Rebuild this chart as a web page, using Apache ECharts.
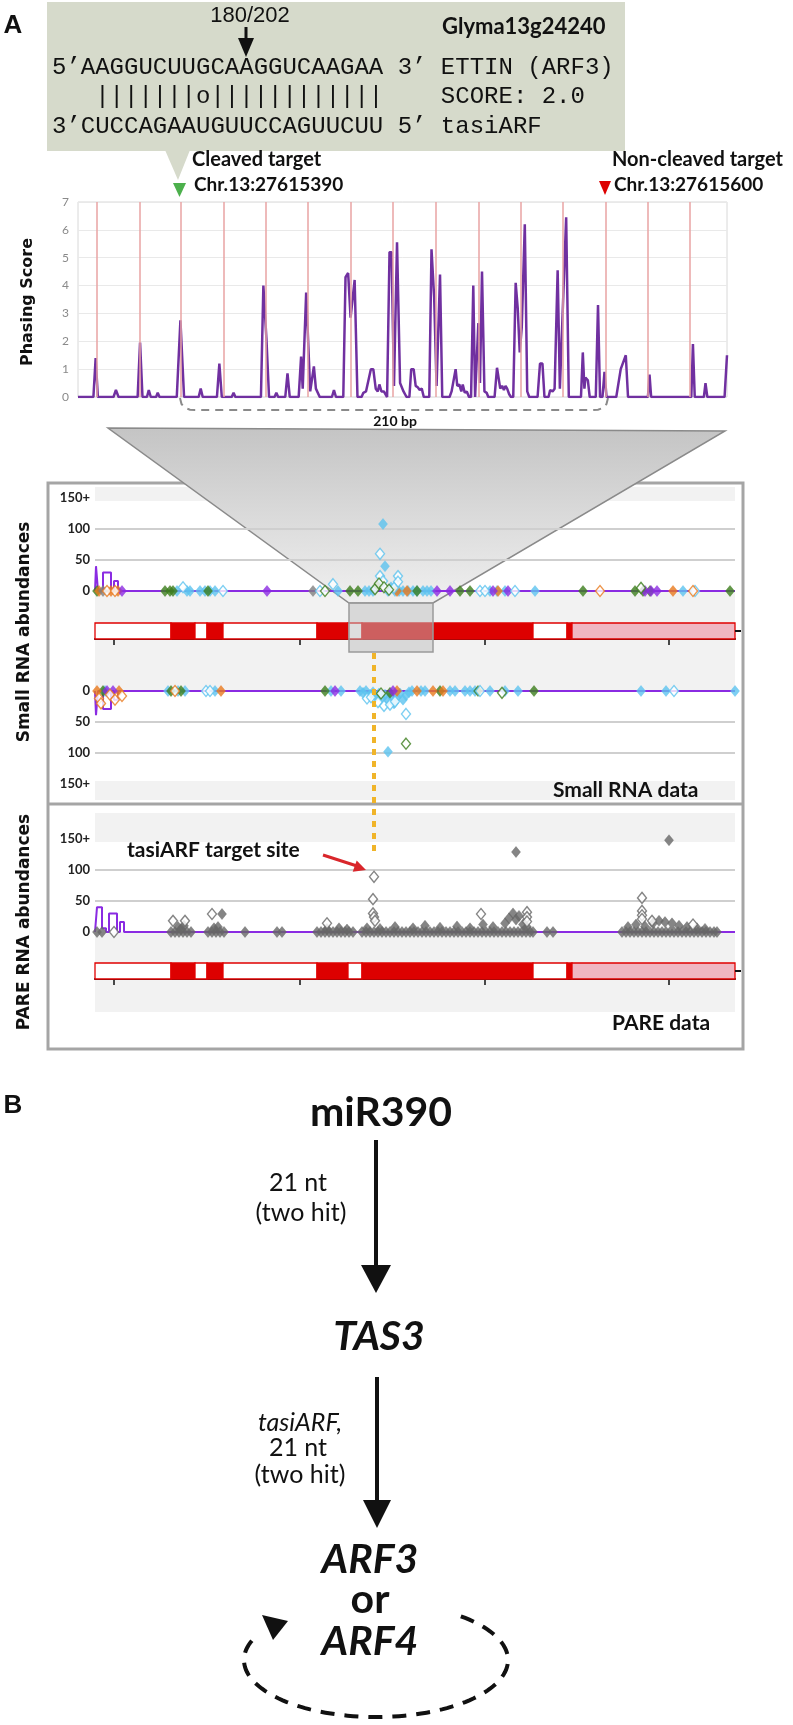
<!DOCTYPE html>
<html><head><meta charset="utf-8">
<script src="https://cdn.jsdelivr.net/npm/echarts@6/dist/echarts.min.js"></script>
<style>html,body{margin:0;padding:0;background:#fff}#c{width:793px;height:1725px}</style>
</head><body><div id="c"></div><script>
// ---------------- DATA ----------------
// Phasing score along the 320-nt window (x = nt offset, y = score)
const phasingCurve = [[0,0],
[7.6,0],[8.7,1.4],[9.8,0],[17.5,0],[18.7,0.25],[20,0],[29.4,0],[30.6,1.95],[31.8,0],
[34,0],[34.9,0.25],[35.9,0],[38.5,0],[39.3,0.15],[40.2,0],[48.7,0],[50.5,2.75],[52.3,0],
[59.5,0],[60.5,0.3],[61.5,0],[68.5,0],[69.7,1.2],[70.9,0],[75.8,0],[76.7,0.15],[77.6,0],
[90.2,0],[91.4,4.0],[92.9,2.1],[94.2,0],[96.9,0],[97.8,0.15],[98.7,0],[102.2,0],[103.3,0.85],[104.4,0],
[108.8,0],[110,1.45],[110.8,0.3],[112.5,3.75],[114.5,0.2],[116.3,1.1],[117.3,0.3],[118.2,0.3],[119.2,0],
[125.2,0],[126.2,0.25],[127.2,0],[130.8,0],[131.9,4.3],[133.2,4.45],[134.4,2.85],[136.4,4.2],[137.8,0],
[139.8,0],[140.7,0.15],[142,0.2],[144.4,1.0],[145.6,1.0],[146.8,0.3],[147.8,0.2],[148.6,0.45],[149.6,0.2],[150.8,0.2],[152.4,0],
[153.6,5.2],[154.6,5.2],[155.8,0.4],[157.3,5.55],[158.8,0.5],[160.5,0.2],[162,0],
[163.4,0],[164.3,1.0],[165.5,1.0],[166.5,0.4],[167.5,0.35],[168.5,0.25],[169.5,0.3],[170.5,0],
[173.2,0],[174.3,5.3],[175.6,3.6],[176.8,0.4],[178.5,4.4],[179.6,0],
[183.2,0],[184.2,0.2],[185,0.2],[186.2,1.0],[187,0.4],[188,0.45],[189,0.2],[189.7,0.45],[190.7,0.15],[191.7,0.2],[192.8,0],
[193.8,0],[194.9,4.0],[195.8,0],[196.4,0],[197.4,2.65],[198.2,0.5],[199.2,4.5],[200.4,0.2],[201.5,0.15],[202.3,0],
[205.4,0],[206.6,1.05],[207.4,1.05],[208.2,0.3],[209.1,0.4],[210,0.25],[210.8,0.4],[211.6,0.3],[212.6,0.1],[213.5,0],
[214.6,0],[215.8,4.1],[216.8,3.2],[217.8,1.6],[218.8,2.5],[220.3,6.2],[221.5,0.2],[222.5,0],
[226.6,0],[227.8,1.2],[229,1.2],[230,0],
[232,0],[232.8,0.25],[234,0.2],[235,0.3],[236.5,4.55],[237.6,0.3],[238.4,0.3],[240.7,6.45],[242,0],
[248,0],[248.9,1.6],[249.7,0.3],[250.2,0.7],[251.4,0.6],[252.3,0],
[255.3,0],[256.4,3.3],[257.4,0],[258.6,0],[259.6,0.9],[260.6,0],
[265.4,0],[267.6,1.0],[270.1,1.5],[271.2,0],[281,0],[281.8,0.8],[282.6,0],
[302.4,0],[303.2,1.9],[304.1,0],[308.6,0],[309.4,0.5],[310.3,0],[318.8,0],[320,1.5]];
const phaseLines = [9.2,30.6,50.5,71.7,92.6,113.5,134.4,155.3,176.5,197.4,218.3,239.2,260.1,281,301.7];
const phasingTicks = [0,1,2,3,4,5,6,7];

// Locus track (x = position along locus, 0..640)
const locusTicks = [19,205,390,574];
const abundanceLabels = ['0','50','100','150+'];
// gene model segments: [start, end, kind]  kind 0 = intron/blank, 1 = CDS exon, 2 = UTR
const geneSegments = [[0,76,0],[76,100,1],[100,112,0],[112,128,1],[128,222,0],[222,253,1],[253,267,0],[267,438,1],[438,472,0],[472,477,1],[477,640,2]];

// small RNA, plus strand
const sPlusCoverage = [[0,0],[1,0],[1,40],[3,0],[8,30],[16,0],[19,16],[23,0],[640,0]];
const sPlusBlue = [[82,0],[92,0],[95,0],[105,0],[110,0],[115,0],[120,0],[243,0],[270,0],[274,0],[278,0],[288,108],[290,40],[293,0],[296,6],[300,0],[304,0],[308,0],[313,0],[318,0],[322,0],[328,0],[332,0],[336,0],[395,0],[402,0],[410,0],[440,0],[588,0]];
const sPlusBlueOpen = [[88,6],[128,0],[225,0],[238,11],[285,24],[285,60],[288,16],[303,24],[303,15],[299,5],[385,0],[390,0],[420,0],[600,0]];
const sPlusGreen = [[2,0],[70,0],[75,0],[78,0],[113,0],[255,0],[263,0],[283,8],[322,0],[365,0],[375,0],[488,0],[540,0],[548,0],[555,0],[635,0]];
const sPlusGreenOpen = [[230,0],[280,3],[284,12],[289,6],[294,2],[546,5]];
const sPlusOrange = [[4,0],[16,0],[23,0],[302,0],[312,0],[403,0],[578,0]];
const sPlusOrangeOpen = [[12,0],[20,0],[505,0],[598,0]];
const sPlusPurple = [[27,0],[172,0],[342,0],[355,0],[398,0],[413,0],[550,0],[556,0],[562,0]];
const sPlusGray = [[8,0],[218,0]];

// small RNA, minus strand
const sMinusCoverage = [[0,0],[1,0],[1,39],[3,0],[8,29],[16,0],[19,14],[23,0],[640,0]];
const sMinusBlue = [[10,0],[73,0],[83,0],[90,0],[120,0],[236,0],[246,0],[265,0],[268,3],[271,0],[275,6],[278,2],[281,9],[284,4],[287,12],[290,6],[293,98],[293,15],[296,8],[299,20],[302,10],[305,4],[308,14],[311,7],[314,2],[317,0],[326,0],[330,0],[355,0],[360,0],[370,0],[375,0],[380,0],[395,0],[410,0],[423,0],[546,0],[571,0],[640,0]];
const sMinusBlueOpen = [[111,0],[115,0],[272,12],[276,10],[283,18],[289,24],[295,22],[300,17],[311,37],[579,0],[385,0]];
const sMinusGreen = [[8,0],[76,0],[86,0],[230,0],[295,3],[345,0],[383,0],[439,0]];
const sMinusGreenOpen = [[311,85],[407,3],[286,4]];
const sMinusOrange = [[2,0],[24,0],[126,0],[302,0],[322,0],[338,0],[348,0]];
const sMinusOrangeOpen = [[4,12],[6,20],[15,6],[20,14],[27,8],[80,0]];
const sMinusPurple = [[12,0],[18,0],[240,0],[298,0]];

// PARE
const pareCoverage = [[0,0],[2,0],[2,40],[7,6],[11,0],[14,30],[22,0],[25,16],[29,0],[640,0]];
const pareFilled = [[2,0],[7,0],
[76,0],[80,0],[84,0],[88,0],[92,0],[96,0],[83,8],[86,5],[89,10],
[113,0],[117,0],[121,0],[125,0],[129,0],[119,6],[123,8],[127,29],
[150,0],[182,0],[187,0],
[222,0],[226,0],[230,0],[234,0],[238,0],[242,0],[246,0],[250,0],[254,0],[258,0],[232,5],[244,6],[252,4],
[267,0],[271,0],[275,0],[279,0],[283,0],[287,0],[291,0],[295,0],[299,0],[303,0],[307,0],[311,0],[315,0],[319,0],[323,0],[327,0],[331,0],[335,0],[339,0],[343,0],[347,0],[351,0],[355,0],[359,0],[363,0],[367,0],[371,0],[375,0],[379,0],[383,0],[387,0],[391,0],[395,0],[399,0],[403,0],[407,0],[411,0],[415,0],[419,0],[423,0],[427,0],[431,0],[435,0],[438,0],
[272,6],[285,5],[300,8],[318,6],[330,10],[345,7],[362,9],[375,6],[388,12],[398,8],[410,14],[414,22],[418,30],[421,20],[424,26],[428,12],[432,8],
[421,129],[452,0],[458,0],
[527,0],[531,0],[535,0],[539,0],[543,0],[547,0],[551,0],[555,0],[559,0],[563,0],[567,0],[571,0],[575,0],[579,0],[583,0],[587,0],[591,0],[595,0],[599,0],[603,0],[607,0],[611,0],[615,0],[619,0],[622,0],
[533,8],[541,12],[550,9],[558,14],[564,18],[570,16],[577,14],[584,10],[592,8],[602,6],[610,5],
[574,148]];
const pareOpen = [[19,0],[78,18],[90,18],[117,29],[232,14],[279,89],[278,53],[278,30],[279,24],[280,18],[386,29],[432,32],[432,24],[432,17],[547,55],[547,34],[547,27],[547,21],[557,18],[598,12]];

// ---------------- STYLE ----------------
const C = {blue:'#5cc3ef', green:'#3b7d1c', orange:'#e8791d', purple:'#8b2be2', gray:'#808080', pare:'#666666'};
const SANS = 'Lato, "Open Sans", sans-serif';
const geneColors = ['#ffffff','#dd0000','#f0b6c2'];

const chart = echarts.init(document.getElementById('c'), null, {renderer:'canvas'});

function sc(name, data, gi, color, open, z){
  return {name, type:'scatter', xAxisIndex:gi, yAxisIndex:gi, data, symbol:'diamond', symbolSize:[9,11],
    z: z || (open?4:3), silent:true,
    itemStyle: open ? {color:'#ffffff', borderColor:color, borderWidth:1.4} : {color:color, borderColor:color, borderWidth:0.5}};
}
function cov(data, gi){
  return {type:'line', xAxisIndex:gi, yAxisIndex:gi, data, step:'end', showSymbol:false, silent:true, z:2,
    lineStyle:{color:'#8a2be2', width:2}};
}
function gene(gi){
  return {type:'custom', xAxisIndex:gi, yAxisIndex:gi, data:geneSegments, silent:true, z:2,
    renderItem:(params, api)=>{
      const a = api.coord([api.value(0),0]); const b = api.coord([api.value(1),0]);
      const cs = params.coordSys;
      return {type:'rect', shape:{x:a[0], y:cs.y, width:b[0]-a[0], height:cs.height},
        style:{fill:geneColors[api.value(2)], stroke:'#e00000', lineWidth:1.3}};
    }};
}
const trackLeft = 95, trackW = 640;
const abY = (gi, inverse)=>({gridIndex:gi, type:'value', min:0, max:150, interval:50, inverse:!!inverse, z:1.5,
  axisLine:{show:false}, axisTick:{show:false},
  axisLabel:{color:'#222', fontFamily:SANS, fontWeight:'bold', fontSize:13, margin:5,
    formatter:v=>abundanceLabels[v/50]},
  splitLine:{show:true, showMinLine:false, showMaxLine:false, lineStyle:{color:'#cfcfcf', width:2}}});
const hidX = (gi, max)=>({gridIndex:gi, type:'value', min:0, max:max, show:false});
const locX = (gi)=>({gridIndex:gi, type:'value', min:0, max:640, position:'bottom', offset:11,
  axisLine:{show:true, lineStyle:{color:'#111', width:2}},
  axisTick:{show:true, customValues:locusTicks, length:6, lineStyle:{color:'#111', width:1.5}},
  axisLabel:{show:false}, splitLine:{show:false}});

// ---------------- GRAPHICS (annotations) ----------------
const T = (x,y,text,font,opt)=>Object.assign({type:'text', x, y, z:20, silent:true,
  style:Object.assign({text, font, fill:'#111', textAlign:'left', textVerticalAlign:'middle'}, (opt&&opt.style)||{})}, opt&&opt.el||{});
const MONO = '24px "Liberation Mono", "Courier New", monospace';
const ROT = 'bold 17px "DejaVu Sans", Verdana, sans-serif';
const g = [];
// header box
g.push({type:'rect', shape:{x:47,y:2,width:578,height:149}, style:{fill:'#d6dacb'}, z:1, silent:true});
g.push({type:'polygon', shape:{points:[[165,150],[190,150],[178,180]]}, style:{fill:'#d6dacb'}, z:1, silent:true});
g.push(T(13,26,'A','bold 26px "Liberation Sans", Arial, sans-serif',{style:{textAlign:'center'}}));
g.push(T(250,16,'180/202','22px "Liberation Sans", Arial, sans-serif',{style:{textAlign:'center'}}));
g.push({type:'line', shape:{x1:246,y1:27,x2:246,y2:42}, style:{stroke:'#111', lineWidth:3}, z:20, silent:true});
g.push({type:'polygon', shape:{points:[[238,38],[254,38],[246,57]]}, style:{fill:'#111'}, z:20, silent:true});
g.push(T(52,68,'5\u2019AAGGUCUUGCAAGGUCAAGAA 3\u2019 ETTIN (ARF3)',MONO));
g.push(T(52,97,'   |||||||o||||||||||||    SCORE: 2.0',MONO));
g.push(T(52,127,'3\u2019CUCCAGAAUGUUCCAGUUCUU 5\u2019 tasiARF',MONO));
g.push(T(442,27,'Glyma13g24240','bold 22px '+SANS));
g.push(T(192,160,'Cleaved target','bold 20px '+SANS));
g.push(T(194,185,'Chr.13:27615390','bold 19px '+SANS));
g.push({type:'polygon', shape:{points:[[173,183],[186,183],[179.5,197]]}, style:{fill:'#4cb04c'}, z:20, silent:true});
g.push(T(612,160,'Non-cleaved target','bold 20px '+SANS));
g.push(T(614,185,'Chr.13:27615600','bold 19px '+SANS));
g.push({type:'polygon', shape:{points:[[599,181],[611,181],[605,195]]}, style:{fill:'#dd0000'}, z:20, silent:true});
g.push(T(28,302,'Phasing Score','bold 16px "DejaVu Sans", Verdana, sans-serif',{style:{textAlign:'center'}, el:{rotation:Math.PI/2}}));
// 210 bp bracket
g.push({type:'polyline', shape:{points:[[180,398],[181.5,404],[185,408],[190,409.7],[195,410],[593,410],[598,409.7],[603,408],[606.5,404],[608,398]]},
  style:{fill:'none', stroke:'#8a8a8a', lineWidth:2, lineDash:[8,6]}, z:20, silent:true});
g.push(T(395,421,'210 bp','bold 14px '+SANS,{style:{textAlign:'center'}}));
// panel backgrounds
[[487,14],[591,100],[781,19],[813,29],[932,80]].forEach(([y,h])=>g.push({type:'rect', shape:{x:95,y:y,width:640,height:h}, style:{fill:'#f2f2f2'}, z:-5, silent:true}));
// panel frame
g.push({type:'rect', shape:{x:48,y:483,width:695,height:566}, style:{fill:'none', stroke:'#a5a5a5', lineWidth:3}, z:0, silent:true});
g.push({type:'line', shape:{x1:48,y1:804,x2:743,y2:804}, style:{stroke:'#a5a5a5', lineWidth:3}, z:0, silent:true});
// zoom funnel
g.push({type:'polygon', shape:{points:[[108,428],[725,431],[433,603],[349,603]]},
  style:{fill:{type:'linear',x:0,y:0,x2:0,y2:1,colorStops:[{offset:0,color:'#c4c4c4'},{offset:1,color:'#f0f0f0'}]}, stroke:'#8a8a8a', lineWidth:1.5}, z:1, silent:true});
g.push({type:'rect', shape:{x:349,y:603,width:84,height:49}, style:{fill:'rgba(190,190,190,0.5)', stroke:'#9a9a9a', lineWidth:1.5}, z:10, silent:true});
// gene bar end ticks
g.push({type:'line', shape:{x1:735,y1:631,x2:741,y2:631}, style:{stroke:'#111', lineWidth:2}, z:10, silent:true});
g.push({type:'line', shape:{x1:735,y1:971,x2:741,y2:971}, style:{stroke:'#111', lineWidth:2}, z:10, silent:true});
// target-site dotted line
g.push({type:'line', shape:{x1:374,y1:653,x2:374,y2:857}, style:{stroke:'#f0b429', lineWidth:4, lineDash:[6,6]}, z:10, silent:true});
g.push(T(127,850,'tasiARF target site','bold 21px '+SANS));
g.push({type:'line', shape:{x1:323,y1:855,x2:357,y2:866}, style:{stroke:'#d9262b', lineWidth:3}, z:20, silent:true});
g.push({type:'polygon', shape:{points:[[366,870],[352.7,871.8],[356.7,860.4]]}, style:{fill:'#d9262b'}, z:20, silent:true});
g.push(T(553,790,'Small RNA data','bold 21px '+SANS));
g.push(T(612,1023,'PARE data','bold 21px '+SANS));
g.push(T(25,632,'Small RNA abundances',ROT,{style:{textAlign:'center'}, el:{rotation:Math.PI/2}}));
g.push(T(25,922,'PARE RNA abundances',ROT,{style:{textAlign:'center'}, el:{rotation:Math.PI/2}}));
// panel B
g.push(T(13,1106,'B','bold 26px "Liberation Sans", Arial, sans-serif',{style:{textAlign:'center'}}));
g.push(T(381,1113,'miR390','bold 41px '+SANS,{style:{textAlign:'center'}}));
g.push({type:'line', shape:{x1:376,y1:1140,x2:376,y2:1268}, style:{stroke:'#111', lineWidth:4}, z:20, silent:true});
g.push({type:'polygon', shape:{points:[[361,1265],[391,1265],[376,1293]]}, style:{fill:'#111'}, z:20, silent:true});
g.push(T(298,1183,'21 nt','25px '+SANS,{style:{textAlign:'center'}}));
g.push(T(301,1213,'(two hit)','25px '+SANS,{style:{textAlign:'center'}}));
g.push(T(379,1337,'TAS3','italic bold 41px '+SANS,{style:{textAlign:'center'}}));
g.push({type:'line', shape:{x1:377,y1:1377,x2:377,y2:1502}, style:{stroke:'#111', lineWidth:4}, z:20, silent:true});
g.push({type:'polygon', shape:{points:[[363,1500],[391,1500],[377,1528]]}, style:{fill:'#111'}, z:20, silent:true});
g.push(T(300,1423,'tasiARF,','italic 25px '+SANS,{style:{textAlign:'center'}}));
g.push(T(298,1448,'21 nt','25px '+SANS,{style:{textAlign:'center'}}));
g.push(T(300,1475,'(two hit)','25px '+SANS,{style:{textAlign:'center'}}));
g.push(T(370,1560,'ARF3','italic bold 41px '+SANS,{style:{textAlign:'center'}}));
g.push(T(370,1600,'or','bold 41px '+SANS,{style:{textAlign:'center'}}));
g.push(T(370,1642,'ARF4','italic bold 41px '+SANS,{style:{textAlign:'center'}}));
// dashed feedback loop (ellipse arc)
const loopPts = [];
for (let a = -50; a <= 205; a += 2.5) { const r = a*Math.PI/180; loopPts.push([376 + 132*Math.cos(r), 1660 + 57*Math.sin(r)]); }
g.push({type:'polyline', shape:{points:loopPts}, style:{fill:'none', stroke:'#111', lineWidth:4, lineDash:[14,10]}, z:20, silent:true});
g.push({type:'polygon', shape:{points:[[262,1615],[288,1621],[273,1640]]}, style:{fill:'#111'}, z:20, silent:true});

const option = {
  animation:false, backgroundColor:'#ffffff',
  grid:[
    {left:78, width:649, top:202, height:195, show:true, borderColor:'#d8d8d8', borderWidth:1, backgroundColor:'transparent'},
    {left:trackLeft, width:trackW, top:498, height:93},
    {left:trackLeft, width:trackW, top:623, height:16},
    {left:trackLeft, width:trackW, top:691, height:93},
    {left:trackLeft, width:trackW, top:839, height:93},
    {left:trackLeft, width:trackW, top:963, height:16}
  ],
  xAxis:[hidX(0,320), hidX(1,640), locX(2), hidX(3,640), hidX(4,640), locX(5)],
  yAxis:[
    {gridIndex:0, type:'value', min:0, max:7, interval:1, axisLine:{show:false}, axisTick:{show:false},
     axisLabel:{color:'#8a8a8a', fontSize:12, margin:9, fontFamily:SANS, customValues:phasingTicks},
     splitLine:{lineStyle:{color:'#e9e9e9', width:1}}},
    abY(1,false),
    {gridIndex:2, type:'value', min:0, max:1, show:false},
    abY(3,true),
    abY(4,false),
    {gridIndex:5, type:'value', min:0, max:1, show:false}
  ],
  graphic:{elements:g},
  series:[
    {type:'line', xAxisIndex:0, yAxisIndex:0, data:[], silent:true, z:1,
     markLine:{silent:true, symbol:['none','none'], label:{show:false}, lineStyle:{color:'#e9a3a3', width:1.5, type:'solid'},
       data:phaseLines.map(v=>({xAxis:v}))}},
    {type:'line', xAxisIndex:0, yAxisIndex:0, data:phasingCurve, showSymbol:false, silent:true, z:3,
     lineStyle:{color:'#7030a0', width:2.5}},
    cov(sPlusCoverage,1),
    sc('b',sPlusBlue,1,C.blue,false), sc('bo',sPlusBlueOpen,1,C.blue,true),
    sc('g',sPlusGreen,1,C.green,false), sc('go',sPlusGreenOpen,1,C.green,true),
    sc('o',sPlusOrange,1,C.orange,false), sc('oo',sPlusOrangeOpen,1,C.orange,true),
    sc('p',sPlusPurple,1,C.purple,false), sc('gr',sPlusGray,1,C.gray,false),
    gene(2),
    cov(sMinusCoverage,3),
    sc('b',sMinusBlue,3,C.blue,false), sc('bo',sMinusBlueOpen,3,C.blue,true),
    sc('g',sMinusGreen,3,C.green,false), sc('go',sMinusGreenOpen,3,C.green,true),
    sc('o',sMinusOrange,3,C.orange,false), sc('oo',sMinusOrangeOpen,3,C.orange,true),
    sc('p',sMinusPurple,3,C.purple,false),
    cov(pareCoverage,4),
    sc('pf',pareFilled,4,C.pare,false), sc('po',pareOpen,4,C.pare,true),
    gene(5)
  ]
};
chart.setOption(option);
</script></body></html>
